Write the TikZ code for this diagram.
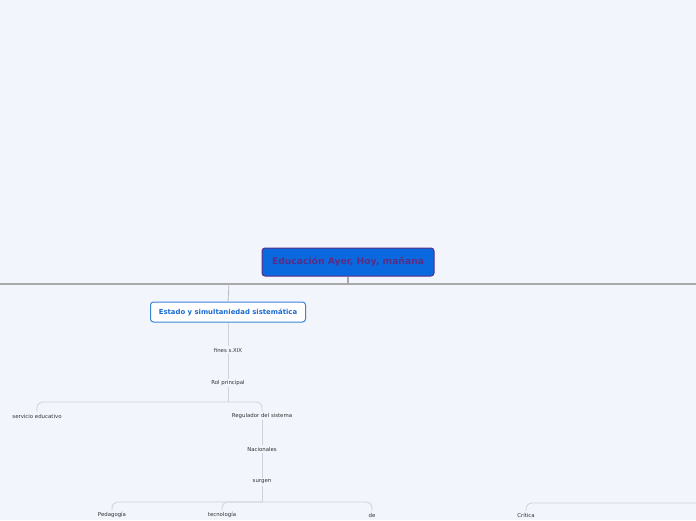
\documentclass[tikz,border=0pt]{standalone}
\usepackage{fontspec}
\setmainfont{DejaVu Sans}
\usepackage{tikz}
\definecolor{bgpaper}{HTML}{F2F5FC}
\definecolor{rootfill}{HTML}{0B69DF}
\definecolor{rootline}{HTML}{5B2C83}
\definecolor{maintopic}{HTML}{3A84D6}
\definecolor{topictext}{HTML}{1B6CD2}
\definecolor{trunk}{HTML}{A9A9A9}
\definecolor{twig}{HTML}{CDD2DB}
\tikzset{
  rootbox/.style={draw=rootline,line width=1pt,fill=rootfill,rounded corners=3,minimum width=172,minimum height=28,text=rootline,font=\fontsize{9.2}{10}\selectfont\bfseries},
  topicbox/.style={draw=maintopic,line width=1pt,fill=white,rounded corners=3,minimum width=155,minimum height=20,text=topictext,font=\fontsize{6.9}{8}\selectfont\bfseries},
  leaf/.style={inner sep=1.5,text=black!80,font=\fontsize{5.4}{6}\selectfont},
  twigline/.style={draw=twig,line width=0.8pt,rounded corners=6}
}
\begin{document}
\begin{tikzpicture}[x=1pt,y=-1pt]
\useasboundingbox[fill=bgpaper] (0,0) rectangle (696,520);
\draw[] (348,262) node[rootbox] (educ) {Educación Ayer, Hoy, mañana};
\draw[] (228,312) node[topicbox] (estado) {Estado y simultaniedad sistemática};
\draw[] (228,350) node[leaf] (fines) {fines s.XIX};
\draw[] (228,383) node[leaf] (rol) {Rol principal};
\draw[] (37,416) node[leaf] (servicio) {servicio educativo};
\draw[] (262,416) node[leaf] (regul) {Regulador del sistema};
\draw[] (262,449) node[leaf] (nacion) {Nacionales};
\draw[] (262,482) node[leaf] (surgen) {surgen};
\draw[] (112,515) node[leaf] (pedag) {Pedagogía};
\draw[] (222,515) node[leaf] (tecno) {tecnología};
\draw[] (372,515) node[leaf] (de) {de};
\draw[] (526,515) node[leaf] (critica) {Crítica};
% tronco
\coordinate (hleft) at (0,284);
\coordinate (hright) at (696,284);
\draw[trunk,line width=1.5pt] (hleft) -- (hright);
\draw[trunk,line width=1.5pt] (educ.south) -- (348,284);
\draw[trunk!80,line width=0.8pt] (229,284) -- (estado.north);
% ramas
\draw[twigline] (estado) -- (fines);
\draw[twigline] (fines) -- (rol);
\draw[twigline] (rol) -- (228,402);
\draw[twigline] (servicio.north) |- (228,402) -| (regul.north);
\draw[twigline] (regul) -- (nacion);
\draw[twigline] (nacion) -- (surgen);
\draw[twigline] (surgen) -- (262,502);
\draw[twigline] (pedag.north) |- (262,502) -| (de.north);
\draw[twigline] (tecno.north) |- (262,502);
\draw[twigline] (critica.north) |- (hright |- 0,503);
\end{tikzpicture}
\end{document}
